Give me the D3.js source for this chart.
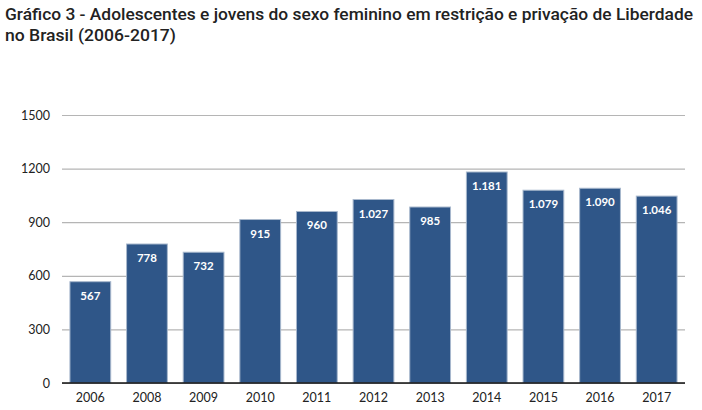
<!DOCTYPE html>
<html><head><meta charset="utf-8">
<script src="https://cdn.jsdelivr.net/npm/d3@7"></script>
<style>body{margin:0;background:#fff;} svg{display:block;}</style>
</head><body>
<svg id="c" width="702" height="410"></svg>
<script>
const years = ["2006","2008","2009","2010","2011","2012","2013","2014","2015","2016","2017"];
const values = [567,778,732,915,960,1027,985,1181,1079,1090,1046];
const valueLabels = ["567","778","732","915","960","1.027","985","1.181","1.079","1.090","1.046"];
const yTicks = [0,300,600,900,1200,1500];
const titleLines = ["Gráfico 3 - Adolescentes e jovens do sexo feminino em restrição e privação de Liberdade","no Brasil (2006-2017)"];

const svg = d3.select("#c");
const mLeft = 62, mRight = 685, mTop = 115, mBottom = 383;
const x = d3.scaleBand().domain(years).range([mLeft, mRight]).paddingInner(0.28).paddingOuter(0.14);
const y = d3.scaleLinear().domain([0,1500]).range([mBottom, mTop]);

svg.selectAll("text.title").data(titleLines).join("text")
  .attr("class","title")
  .attr("x",5).attr("y",(d,i)=>20+i*21)
  .attr("font-family","Roboto").attr("font-weight","500").attr("font-size",17)
  .attr("fill","#222")
  .attr("textLength",(d,i)=> i===0 ? 688 : 171).attr("lengthAdjust","spacingAndGlyphs")
  .text(d=>d);

const yAxis = d3.axisLeft(y).tickValues(yTicks).tickFormat(d3.format("d")).tickSize(-(mRight-mLeft)).tickPadding(12);
const gy = svg.append("g").attr("transform",`translate(${mLeft},0)`).call(yAxis);
gy.select(".domain").remove();
gy.selectAll(".tick line").attr("stroke","#b5b5b5").attr("stroke-width",1.2);
gy.selectAll(".tick text").attr("font-family","Lato").attr("font-size",12.5).attr("fill","#222");

svg.selectAll("rect.bar").data(values).join("rect")
  .attr("class","bar")
  .attr("x",(d,i)=>x(years[i])).attr("width",x.bandwidth())
  .attr("y",d=>y(d)).attr("height",d=>mBottom-y(d))
  .attr("fill","#2f5688").attr("stroke","#a8b8cd").attr("stroke-width",1);

svg.selectAll("text.val").data(values).join("text")
  .attr("class","val")
  .attr("x",(d,i)=>x(years[i])+x.bandwidth()/2).attr("y",d=>y(d)+18)
  .attr("text-anchor","middle").attr("font-family","Lato").attr("font-weight","bold")
  .attr("font-size",11.5).attr("fill","#fff")
  .text((d,i)=>valueLabels[i]);

const xAxis = d3.axisBottom(x).tickSize(0).tickPadding(10);
const gx = svg.append("g").attr("transform",`translate(0,${mBottom})`).call(xAxis);
gx.select(".domain").attr("stroke","#111").attr("stroke-width",1.5).attr("d",`M${mLeft},0H${mRight}`);
gx.selectAll(".tick text").attr("font-family","Lato").attr("font-size",12.5).attr("fill","#222");
</script>
</body></html>
